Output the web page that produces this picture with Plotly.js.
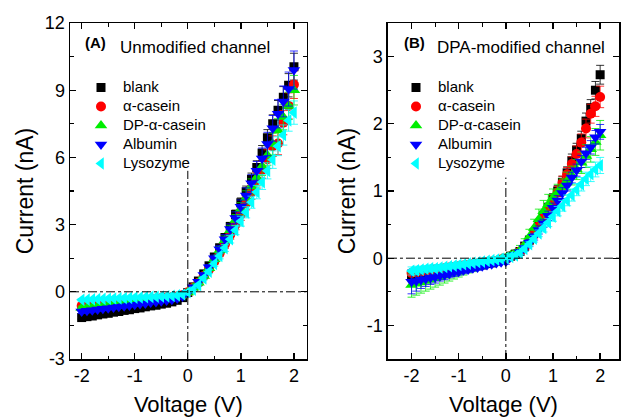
<!DOCTYPE html>
<html>
<head>
<meta charset="utf-8">
<script src="https://cdn.plot.ly/plotly-3.0.1.min.js"></script>
<style>html,body{margin:0;padding:0;background:#fff;}#chart{width:624px;height:417px;}</style>
</head>
<body>
<div id="chart"></div>
<script>
// Voltage (V)
const voltage = [-2,-1.9,-1.8,-1.7,-1.6,-1.5,-1.4,-1.3,-1.2,-1.1,-1,-0.9,-0.8,-0.7,-0.6,-0.5,-0.4,-0.3,-0.2,-0.1,0,0.1,0.2,0.3,0.4,0.5,0.6,0.7,0.8,0.9,1,1.1,1.2,1.3,1.4,1.5,1.6,1.7,1.8,1.9,2];
const seriesNames = ["blank","\u03b1-casein","DP-\u03b1-casein","Albumin","Lysozyme"];

// Tick labels (plain hyphen minus as in the reference)
const xTickVals = [-2,-1,0,1,2];
const xTickText = ["-2","-1","0","1","2"];
const yA_TickVals = [-3,0,3,6,9,12];
const yA_TickText = ["-3","0","3","6","9","12"];
const yB_TickVals = [-1,0,1,2,3];
const yB_TickText = ["-1","0","1","2","3"];

// Panel A: Unmodified channel, current (nA)
const A_blank = [-1.15,-1.11,-1.08,-1.03,-0.99,-0.96,-0.91,-0.88,-0.83,-0.80,-0.75,-0.72,-0.67,-0.63,-0.60,-0.55,-0.51,-0.45,-0.38,-0.26,-0.03,0.22,0.48,0.80,1.16,1.55,1.97,2.42,2.92,3.45,3.97,4.47,5.02,5.55,6.20,6.88,7.50,8.10,8.68,9.22,10.05];
const A_casein = [-0.62,-0.60,-0.58,-0.55,-0.53,-0.51,-0.49,-0.47,-0.45,-0.42,-0.40,-0.38,-0.36,-0.34,-0.31,-0.29,-0.27,-0.24,-0.21,-0.15,-0.02,0.18,0.40,0.70,1.00,1.35,1.72,2.12,2.55,3.00,3.45,3.95,4.45,4.98,5.45,5.92,6.50,6.62,7.55,8.30,9.25];
const A_dp = [-0.72,-0.70,-0.67,-0.64,-0.62,-0.59,-0.56,-0.54,-0.51,-0.48,-0.46,-0.43,-0.40,-0.38,-0.35,-0.32,-0.29,-0.26,-0.22,-0.16,-0.03,0.18,0.40,0.70,1.05,1.45,1.85,2.30,2.75,3.20,3.70,4.20,4.70,5.10,5.60,6.10,6.60,7.20,7.80,8.30,9.00];
const A_alb = [-0.88,-0.85,-0.82,-0.79,-0.76,-0.73,-0.70,-0.67,-0.64,-0.61,-0.58,-0.55,-0.52,-0.48,-0.45,-0.42,-0.39,-0.35,-0.30,-0.21,-0.04,0.20,0.45,0.75,1.10,1.50,1.90,2.35,2.80,3.30,3.80,4.30,4.85,5.40,5.95,6.60,7.30,7.95,8.50,9.05,9.90];
const A_lys = [-0.36,-0.35,-0.34,-0.33,-0.32,-0.31,-0.30,-0.29,-0.28,-0.27,-0.26,-0.25,-0.24,-0.23,-0.22,-0.21,-0.20,-0.18,-0.16,-0.12,-0.02,0.10,0.30,0.60,0.90,1.25,1.60,1.95,2.35,2.75,3.15,3.55,4.00,4.45,4.90,5.40,5.90,6.50,7.00,7.65,8.00];

const A_blank_err = [0.07,0.06,0.06,0.07,0.06,0.06,0.06,0.05,0.06,0.06,0.05,0.06,0.05,0.05,0.05,0.05,0.04,0.04,0.04,0.04,0.03,0.05,0.06,0.08,0.10,0.12,0.14,0.16,0.18,0.20,0.22,0.25,0.28,0.30,0.33,0.36,0.40,0.44,0.48,0.52,0.60];
const A_casein_err = [0.06,0.06,0.06,0.06,0.05,0.06,0.05,0.05,0.05,0.05,0.05,0.05,0.04,0.04,0.04,0.04,0.04,0.04,0.03,0.03,0.03,0.05,0.06,0.08,0.10,0.12,0.15,0.18,0.20,0.23,0.26,0.29,0.32,0.35,0.38,0.42,0.46,0.50,0.54,0.58,0.62];
const A_dp_err = [0.08,0.08,0.07,0.07,0.07,0.07,0.06,0.06,0.06,0.06,0.06,0.05,0.05,0.05,0.05,0.05,0.04,0.04,0.04,0.03,0.03,0.05,0.07,0.09,0.11,0.13,0.16,0.19,0.22,0.25,0.28,0.31,0.34,0.37,0.41,0.45,0.49,0.53,0.57,0.61,0.66];
const A_alb_err = [0.09,0.09,0.08,0.08,0.08,0.07,0.07,0.07,0.07,0.06,0.06,0.06,0.06,0.05,0.05,0.05,0.05,0.04,0.04,0.04,0.03,0.05,0.07,0.09,0.11,0.14,0.17,0.20,0.23,0.27,0.30,0.34,0.38,0.42,0.47,0.52,0.57,0.63,0.69,0.76,0.85];
const A_lys_err = [0.05,0.05,0.05,0.05,0.05,0.05,0.04,0.04,0.04,0.04,0.04,0.04,0.04,0.03,0.03,0.03,0.03,0.03,0.03,0.03,0.02,0.04,0.05,0.07,0.09,0.11,0.13,0.15,0.17,0.20,0.22,0.25,0.27,0.30,0.33,0.36,0.39,0.42,0.45,0.48,0.52];

// Panel B: DPA-modified channel, current (nA)
const B_blank = [-0.25,-0.24,-0.23,-0.22,-0.21,-0.20,-0.19,-0.18,-0.17,-0.16,-0.15,-0.14,-0.13,-0.12,-0.11,-0.10,-0.08,-0.07,-0.05,-0.03,0.00,0.03,0.06,0.10,0.18,0.27,0.38,0.50,0.63,0.75,0.88,1.00,1.13,1.27,1.45,1.61,1.78,2.04,2.24,2.50,2.73];
const B_casein = [-0.22,-0.21,-0.20,-0.19,-0.18,-0.17,-0.16,-0.15,-0.14,-0.13,-0.12,-0.11,-0.10,-0.09,-0.08,-0.07,-0.06,-0.05,-0.04,-0.02,-0.01,0.03,0.06,0.10,0.17,0.26,0.36,0.48,0.60,0.72,0.85,0.98,1.12,1.25,1.40,1.55,1.72,1.93,2.15,2.26,2.40];
const B_dp = [-0.40,-0.38,-0.36,-0.34,-0.32,-0.30,-0.28,-0.26,-0.24,-0.22,-0.20,-0.18,-0.16,-0.14,-0.12,-0.10,-0.08,-0.06,-0.04,-0.02,0.00,0.04,0.07,0.12,0.20,0.32,0.45,0.58,0.70,0.80,0.90,0.98,1.06,1.15,1.23,1.32,1.42,1.52,1.62,1.73,1.83];
const B_alb = [-0.35,-0.34,-0.32,-0.31,-0.29,-0.28,-0.26,-0.25,-0.23,-0.21,-0.20,-0.18,-0.17,-0.15,-0.14,-0.12,-0.10,-0.09,-0.07,-0.06,-0.05,0.02,0.05,0.09,0.15,0.23,0.32,0.42,0.52,0.63,0.75,0.86,0.97,1.08,1.20,1.31,1.44,1.56,1.65,1.80,1.88];
const B_lys = [-0.19,-0.18,-0.17,-0.16,-0.15,-0.15,-0.14,-0.13,-0.12,-0.11,-0.10,-0.09,-0.08,-0.07,-0.06,-0.05,-0.04,-0.03,-0.02,-0.01,0.00,0.02,0.04,0.08,0.14,0.21,0.29,0.37,0.45,0.53,0.62,0.70,0.78,0.86,0.94,1.02,1.10,1.18,1.25,1.32,1.38];

const B_blank_err = [0.04,0.04,0.04,0.04,0.03,0.03,0.03,0.03,0.03,0.03,0.03,0.03,0.03,0.03,0.03,0.03,0.03,0.03,0.03,0.03,0.03,0.03,0.04,0.04,0.05,0.05,0.06,0.06,0.07,0.07,0.08,0.08,0.09,0.09,0.10,0.10,0.11,0.12,0.12,0.13,0.14];
const B_casein_err = [0.04,0.04,0.04,0.04,0.04,0.03,0.03,0.03,0.03,0.03,0.03,0.03,0.03,0.03,0.03,0.03,0.03,0.03,0.03,0.03,0.03,0.03,0.04,0.04,0.05,0.05,0.06,0.07,0.07,0.08,0.08,0.09,0.10,0.10,0.11,0.12,0.13,0.14,0.14,0.15,0.16];
const B_dp_err = [0.18,0.17,0.16,0.15,0.14,0.13,0.12,0.11,0.10,0.09,0.08,0.07,0.06,0.06,0.05,0.05,0.04,0.04,0.04,0.03,0.03,0.04,0.05,0.07,0.09,0.11,0.13,0.15,0.16,0.15,0.13,0.12,0.12,0.13,0.14,0.15,0.16,0.17,0.19,0.20,0.22];
const B_alb_err = [0.18,0.15,0.13,0.11,0.10,0.09,0.08,0.07,0.06,0.06,0.05,0.05,0.04,0.04,0.04,0.04,0.03,0.03,0.03,0.03,0.04,0.03,0.03,0.04,0.04,0.05,0.05,0.06,0.06,0.07,0.07,0.07,0.08,0.08,0.08,0.09,0.09,0.09,0.10,0.10,0.11];
const B_lys_err = [0.06,0.06,0.05,0.05,0.05,0.05,0.04,0.04,0.04,0.04,0.04,0.03,0.03,0.03,0.03,0.03,0.03,0.03,0.03,0.02,0.02,0.02,0.03,0.03,0.04,0.04,0.05,0.05,0.06,0.06,0.07,0.07,0.08,0.08,0.09,0.09,0.10,0.10,0.11,0.11,0.12];

const colors = ["#000000","#ff0000","#00ee00","#0000ff","#00ffff"];
const symbols = ["square","circle","triangle-up","triangle-down","triangle-left"];
const sizes = [9,10,11,11,11];

const FONT = "Arial, 'Liberation Sans', sans-serif";

function makeTrace(y, err, i, xa, ya, leg) {
  return {
    x: voltage, y: y, type: "scatter", mode: "markers",
    name: '<span style="font-size:15px">' + seriesNames[i] + '</span>',
    xaxis: xa, yaxis: ya, legend: leg,
    marker: {symbol: symbols[i], color: colors[i], size: sizes[i], line: {width: 0}},
    error_y: {type: "data", array: err, visible: true, color: colors[i], thickness: 0.8, width: 4}
  };
}

const Aset = [A_blank, A_casein, A_dp, A_alb, A_lys];
const AerrSet = [A_blank_err, A_casein_err, A_dp_err, A_alb_err, A_lys_err];
const Bset = [B_blank, B_casein, B_dp, B_alb, B_lys];
const BerrSet = [B_blank_err, B_casein_err, B_dp_err, B_alb_err, B_lys_err];

const data = [];
for (let i = 0; i < 5; i++) data.push(makeTrace(Aset[i], AerrSet[i], i, "x", "y", "legend"));
for (let i = 0; i < 5; i++) data.push(makeTrace(Bset[i], BerrSet[i], i, "x2", "y2", "legend2"));

const axisCommon = {
  showline: true, linecolor: "#000", linewidth: 1.5, mirror: "allticks",
  ticks: "inside", ticklen: 6, tickwidth: 1.3, tickcolor: "#000",
  showgrid: false, zeroline: false, automargin: false, tickmode: "array", tickangle: 0,
  tickfont: {family: FONT, size: 18, color: "#000"}
};
function minorTicks(d) {
  return {ticks: "inside", ticklen: 3.5, tickwidth: 1.2, tickcolor: "#000", showgrid: false, tickmode: "linear", tick0: 0, dtick: d};
}

const PW = 549, PH = 336, ML = 70, MT = 23;
const legendCommon = {xanchor: "left", yanchor: "top", y: 1 - (73-MT)/PH,
  bgcolor: "rgba(0,0,0,0)", font: {family: FONT, size: 12.3, color: "#000"}, itemwidth: 34, tracegroupgap: 0};

const layout = {
  width: 624, height: 417,
  margin: {l: ML, r: 5, t: MT, b: 58},
  paper_bgcolor: "#fff", plot_bgcolor: "#fff",
  font: {family: FONT, color: "#000"},
  xaxis: Object.assign({}, axisCommon, {domain: [0, 0.4311], range: [-2.22, 2.24],
    tickvals: xTickVals, ticktext: xTickText, minor: minorTicks(0.5),
    title: {text: "Voltage (V)", font: {family: FONT, size: 22}, standoff: 18}}),
  yaxis: Object.assign({}, axisCommon, {domain: [0, 1], range: [-3, 12],
    tickvals: yA_TickVals, ticktext: yA_TickText, minor: minorTicks(1.5),
    title: {text: "Current (nA)", font: {family: FONT, size: 23}, standoff: 5}}),
  xaxis2: Object.assign({}, axisCommon, {domain: [0.5792, 1], range: [-2.5, 2.4], anchor: "y2",
    tickvals: xTickVals, ticktext: xTickText, minor: minorTicks(0.5),
    title: {text: "Voltage (V)", font: {family: FONT, size: 22}, standoff: 18}}),
  yaxis2: Object.assign({}, axisCommon, {domain: [0, 1], range: [-1.5, 3.5], anchor: "x2",
    tickvals: yB_TickVals, ticktext: yB_TickText, minor: minorTicks(0.5),
    title: {text: "Current (nA)", font: {family: FONT, size: 23}, standoff: 5}}),
  showlegend: true,
  legend: Object.assign({}, legendCommon, {x: (79-ML)/PW}),
  legend2: Object.assign({}, legendCommon, {x: (394-ML)/PW}),
  shapes: [
    {type: "line", xref: "x", yref: "y", x0: 0, x1: 0, y0: -3, y1: 5.4, line: {color: "#000", width: 1, dash: "dashdot"}},
    {type: "line", xref: "x", yref: "y", x0: -2.22, x1: 2.24, y0: 0, y1: 0, line: {color: "#000", width: 1, dash: "dashdot"}},
    {type: "line", xref: "x2", yref: "y2", x0: 0, x1: 0, y0: -1.5, y1: 1.2, line: {color: "#000", width: 1, dash: "dashdot"}},
    {type: "line", xref: "x2", yref: "y2", x0: -2.5, x1: 2.4, y0: 0, y1: 0, line: {color: "#000", width: 1, dash: "dashdot"}}
  ],
  annotations: [
    {xref: "paper", yref: "paper", x: (83-ML)/PW, y: 1 - (42-MT)/PH, xanchor: "left", yanchor: "middle", showarrow: false,
      text: "<b>(A)</b>", font: {family: FONT, size: 15}},
    {xref: "paper", yref: "paper", x: (118-ML)/PW, y: 1 - (48-MT)/PH, xanchor: "left", yanchor: "middle", showarrow: false,
      text: "Unmodified channel", font: {family: FONT, size: 17}},
    {xref: "paper", yref: "paper", x: (402-ML)/PW, y: 1 - (42-MT)/PH, xanchor: "left", yanchor: "middle", showarrow: false,
      text: "<b>(B)</b>", font: {family: FONT, size: 15}},
    {xref: "paper", yref: "paper", x: (435-ML)/PW, y: 1 - (48-MT)/PH, xanchor: "left", yanchor: "middle", showarrow: false,
      text: "DPA-modified channel", font: {family: FONT, size: 17}}
  ]
};

Plotly.newPlot("chart", data, layout, {displayModeBar: false, staticPlot: true});
</script>
</body>
</html>
